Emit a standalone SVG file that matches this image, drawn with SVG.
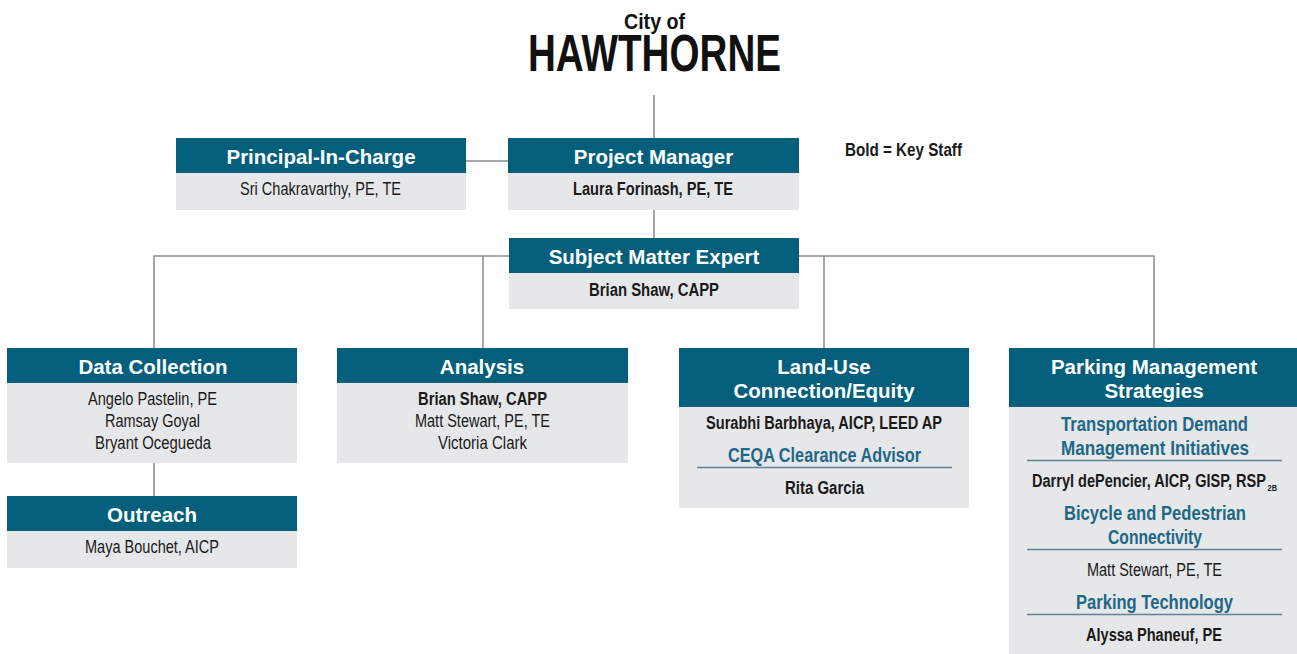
<svg xmlns="http://www.w3.org/2000/svg" width="1297" height="654" viewBox="0 0 1297 654">
  <style>
    .hdr { fill: #035f7c; }
    .body { fill: #e6e7e9; }
    .htxt { font-family: "Liberation Sans", Arial, sans-serif; font-weight: bold; font-size: 20.5px; fill: #ffffff; text-anchor: middle; }
    .name { font-family: "Liberation Sans", Arial, sans-serif; font-size: 17.5px; fill: #1a1a1a; text-anchor: middle; }
    .key { font-weight: bold; }
    .sub { font-family: "Liberation Sans", Arial, sans-serif; font-weight: bold; font-size: 19.5px; fill: #1e6787; text-anchor: middle; }
    .div { stroke: #5d8498; stroke-width: 1.5; }
    .conn { stroke: #8a8a8a; stroke-width: 1.5; fill: none; }
    .title { font-family: "Liberation Sans", Arial, sans-serif; font-weight: bold; fill: #111111; text-anchor: middle; }
  </style>

  <!-- title -->
  <g id="title">
    <text class="title" x="654.5" y="29" style="font-size:22px" textLength="61" lengthAdjust="spacingAndGlyphs">City of</text>
    <text class="title" x="654.5" y="71" style="font-size:51px" textLength="253" lengthAdjust="spacingAndGlyphs">HAWTHORNE</text>
  </g>

  <!-- connectors -->
  <g id="connectors" class="conn">
    <line x1="654" y1="95" x2="654" y2="138"/>
    <line x1="466" y1="161" x2="508" y2="161"/>
    <line x1="654" y1="210" x2="654" y2="238"/>
    <polyline points="154,348 154,256 1154,256 1154,348"/>
    <line x1="483" y1="256" x2="483" y2="348"/>
    <line x1="824" y1="256" x2="824" y2="348"/>
    <line x1="154" y1="463" x2="154" y2="496"/>
  </g>

  <g id="legend">
    <text class="name key" x="903.5" y="156" textLength="117" lengthAdjust="spacingAndGlyphs">Bold = Key Staff</text>
  </g>

  <g id="principal">
    <rect class="hdr" x="176" y="138" width="290" height="35"/>
    <rect class="body" x="176" y="173" width="290" height="37"/>
    <text class="htxt" x="321" y="164">Principal-In-Charge</text>
    <text class="name" x="320.5" y="195" textLength="161" lengthAdjust="spacingAndGlyphs">Sri Chakravarthy, PE, TE</text>
  </g>

  <g id="project-manager">
    <rect class="hdr" x="508" y="138" width="291" height="35"/>
    <rect class="body" x="508" y="173" width="291" height="37"/>
    <text class="htxt" x="653.5" y="164">Project Manager</text>
    <text class="name key" x="653" y="195" textLength="160" lengthAdjust="spacingAndGlyphs">Laura Forinash, PE, TE</text>
  </g>

  <g id="subject-matter-expert">
    <rect class="hdr" x="509" y="238" width="290" height="35"/>
    <rect class="body" x="509" y="273" width="290" height="36"/>
    <text class="htxt" x="654" y="264">Subject Matter Expert</text>
    <text class="name key" x="654" y="296" textLength="130" lengthAdjust="spacingAndGlyphs">Brian Shaw, CAPP</text>
  </g>

  <g id="data-collection">
    <rect class="hdr" x="7" y="348" width="290" height="35"/>
    <rect class="body" x="7" y="383" width="290" height="80"/>
    <text class="htxt" x="153" y="374">Data Collection</text>
    <text class="name" x="152.5" y="405" textLength="129" lengthAdjust="spacingAndGlyphs">Angelo Pastelin, PE</text>
    <text class="name" x="152.5" y="427" textLength="95" lengthAdjust="spacingAndGlyphs">Ramsay Goyal</text>
    <text class="name" x="153" y="449" textLength="116" lengthAdjust="spacingAndGlyphs">Bryant Ocegueda</text>
  </g>

  <g id="outreach">
    <rect class="hdr" x="7" y="496" width="290" height="35"/>
    <rect class="body" x="7" y="531" width="290" height="37"/>
    <text class="htxt" x="152" y="522">Outreach</text>
    <text class="name" x="152" y="553" textLength="134" lengthAdjust="spacingAndGlyphs">Maya Bouchet, AICP</text>
  </g>

  <g id="analysis">
    <rect class="hdr" x="337" y="348" width="291" height="35"/>
    <rect class="body" x="337" y="383" width="291" height="80"/>
    <text class="htxt" x="482" y="374">Analysis</text>
    <text class="name key" x="482.5" y="405" textLength="129" lengthAdjust="spacingAndGlyphs">Brian Shaw, CAPP</text>
    <text class="name" x="482.5" y="427" textLength="135" lengthAdjust="spacingAndGlyphs">Matt Stewart, PE, TE</text>
    <text class="name" x="482.5" y="449" textLength="89" lengthAdjust="spacingAndGlyphs">Victoria Clark</text>
  </g>

  <g id="land-use">
    <rect class="hdr" x="679" y="348" width="290" height="59"/>
    <rect class="body" x="679" y="407" width="290" height="101"/>
    <text class="htxt" x="824" y="374">Land-Use</text>
    <text class="htxt" x="824" y="398">Connection/Equity</text>
    <text class="name key" x="824" y="429" textLength="236" lengthAdjust="spacingAndGlyphs">Surabhi Barbhaya, AICP, LEED AP</text>
    <text class="sub" x="824.5" y="462" textLength="193" lengthAdjust="spacingAndGlyphs">CEQA Clearance Advisor</text>
    <line class="div" x1="697" y1="467.5" x2="952" y2="467.5"/>
    <text class="name key" x="824.5" y="494" textLength="79" lengthAdjust="spacingAndGlyphs">Rita Garcia</text>
  </g>

  <g id="parking">
    <rect class="hdr" x="1009" y="348" width="288" height="59"/>
    <rect class="body" x="1009" y="407" width="288" height="247"/>
    <text class="htxt" x="1154" y="374">Parking Management</text>
    <text class="htxt" x="1154" y="398">Strategies</text>
    <text class="sub" x="1154.5" y="431" textLength="187" lengthAdjust="spacingAndGlyphs">Transportation Demand</text>
    <text class="sub" x="1155" y="455" textLength="188" lengthAdjust="spacingAndGlyphs">Management Initiatives</text>
    <line class="div" x1="1027" y1="460.5" x2="1282" y2="460.5"/>
    <text class="name key" x="1032" y="487" style="text-anchor:start" textLength="234" lengthAdjust="spacingAndGlyphs">Darryl dePencier, AICP, GISP, RSP</text>
    <text class="name key" x="1267.5" y="491" style="text-anchor:start;font-size:8.5px" textLength="9.5" lengthAdjust="spacingAndGlyphs">2B</text>
    <text class="sub" x="1155" y="520" textLength="182" lengthAdjust="spacingAndGlyphs">Bicycle and Pedestrian</text>
    <text class="sub" x="1155" y="544" textLength="94" lengthAdjust="spacingAndGlyphs">Connectivity</text>
    <line class="div" x1="1027" y1="549.5" x2="1282" y2="549.5"/>
    <text class="name" x="1154.5" y="576" textLength="135" lengthAdjust="spacingAndGlyphs">Matt Stewart, PE, TE</text>
    <text class="sub" x="1154.5" y="609" textLength="157" lengthAdjust="spacingAndGlyphs">Parking Technology</text>
    <line class="div" x1="1027" y1="614.5" x2="1282" y2="614.5"/>
    <text class="name key" x="1154" y="641" textLength="136" lengthAdjust="spacingAndGlyphs">Alyssa Phaneuf, PE</text>
  </g>
</svg>
